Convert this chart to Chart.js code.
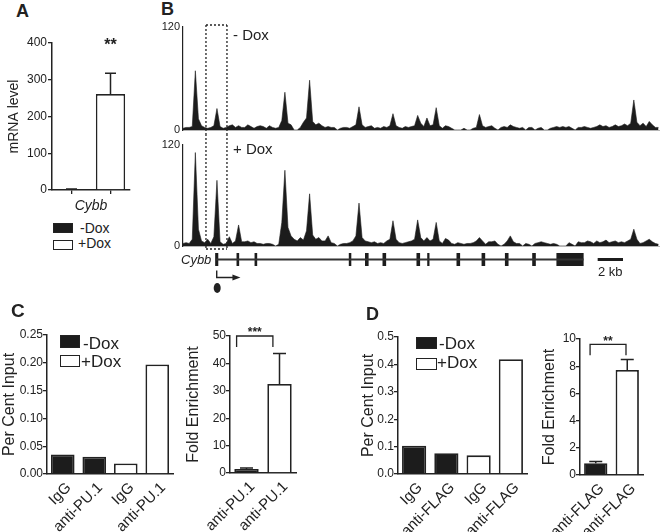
<!DOCTYPE html>
<html><head><meta charset="utf-8">
<script src="https://cdn.jsdelivr.net/npm/chart.js@4.4.1/dist/chart.umd.min.js"></script>
<style>
html,body{margin:0;padding:0;background:#fff;}
body{width:660px;height:532px;position:relative;overflow:hidden;font-family:"Liberation Sans",Arial,Helvetica,sans-serif;color:#222;}
canvas{position:absolute;}
.t{position:absolute;white-space:nowrap;line-height:1;}
.b{font-weight:bold;}
.box{position:absolute;border:1.5px solid #222;box-sizing:border-box;}
.blk{background:#1c1c1c;}
.wht{background:#fff;}
</style></head><body>
<canvas id="cA"></canvas>
<canvas id="cTop"></canvas>
<canvas id="cBot"></canvas>
<canvas id="cGene"></canvas>
<canvas id="cC1"></canvas>
<canvas id="cC2"></canvas>
<canvas id="cD1"></canvas>
<canvas id="cD2"></canvas>

<div class="t b" style="left:16px;top:2px;font-size:18px;">A</div>
<div class="t b" style="left:161px;top:0px;font-size:18px;">B</div>
<div class="t b" style="left:11px;top:301px;font-size:19px;">C</div>
<div class="t b" style="left:366px;top:305px;font-size:18px;">D</div>

<div class="box blk" style="left:53px;top:223px;width:20px;height:10px;"></div>
<div class="t" style="left:80px;top:221px;font-size:14px;">-Dox</div>
<div class="box wht" style="left:53px;top:240px;width:20px;height:10px;"></div>
<div class="t" style="left:78px;top:236px;font-size:14px;">+Dox</div>

<div class="t" style="left:233px;top:27px;font-size:15px;">- Dox</div>
<div class="t" style="left:233px;top:141px;font-size:15px;">+ Dox</div>
<div class="t" style="left:181px;top:253px;font-size:13px;font-style:italic;">Cybb</div>
<div class="t" style="left:598px;top:265px;font-size:13px;">2 kb</div>

<div class="box blk" style="left:60px;top:335px;width:20px;height:13px;"></div>
<div class="t" style="left:83px;top:335px;font-size:17px;">-Dox</div>
<div class="box wht" style="left:60px;top:355px;width:20px;height:12px;"></div>
<div class="t" style="left:81px;top:353px;font-size:17px;">+Dox</div>

<div class="box blk" style="left:416px;top:337px;width:21px;height:12px;"></div>
<div class="t" style="left:439px;top:335px;font-size:17px;">-Dox</div>
<div class="box wht" style="left:416px;top:358px;width:21px;height:12px;"></div>
<div class="t" style="left:437px;top:354px;font-size:17px;">+Dox</div>

<script>
// ---------------- DATA ----------------
// Panel A
const aCategories = ['-Dox', '+Dox'];
const aValues = [2, 261];
const aErrors = [1, 57];
const aTicks = [0, 100, 200, 300, 400];

// Panel B (ChIP-seq coverage, bins of 0.25 kb)
const binKb = 0.25;
const trackKb = 38.62;
const trackTicks = [0, 120];
const covMinusDox = [
  2,3,3,4,69,13,5,3,2,3,
  5,25,4,2,3,5,6,3,5,3,
  3,6,4,2,4,5,4,2,5,3,
  2,3,11,44,8,6,0,0,3,9,
  14,58,10,6,8,5,3,4,3,3,
  0,2,3,3,2,4,6,27,6,3,
  4,5,2,3,2,4,3,5,19,5,
  3,2,4,3,4,5,17,8,4,14,
  5,6,26,5,2,5,4,2,0,0,
  0,2,0,0,2,3,18,5,3,4,
  5,2,0,3,4,3,6,4,3,2,
  3,0,3,3,0,2,3,0,0,2,
  3,4,3,4,3,4,2,0,3,3,
  4,3,2,3,4,6,4,5,3,4,
  6,4,5,7,5,8,35,9,5,8,
  4,10,6,3,3
];
const covPlusDox = [
  3,4,3,8,111,20,6,4,8,3,
  11,78,5,2,3,11,3,6,25,5,
  5,6,4,5,3,3,2,3,3,2,
  0,2,28,90,22,12,8,6,10,7,
  18,62,13,8,10,6,6,12,4,3,
  0,2,3,3,4,6,12,51,10,6,
  5,4,5,3,4,3,6,8,30,8,
  4,3,4,5,6,8,31,10,6,10,
  6,8,28,6,3,9,7,3,2,4,
  3,2,3,3,4,6,10,6,2,5,
  5,6,2,0,2,6,12,5,3,3,
  0,3,2,0,3,4,5,4,3,2,
  3,2,0,0,0,4,2,0,5,4,
  4,6,5,3,6,4,5,7,4,5,
  6,4,5,4,6,8,20,8,3,4,
  6,8,5,3,2
];
const geneSpanKb = [2.7, 32.4];
const exonsKb = [[2.63,2.83],[4.36,4.52],[5.82,5.98],[13.45,13.6],[14.76,15.0],[16.18,16.42],
                 [18.93,19.17],[19.8,19.93],[22.17,22.41],[24.2,24.44],[26.09,26.33],[28.3,28.54],[30.26,32.41]];
const tssKb = 2.73, tssArrowToKb = 4.65;
const promoterBoxKb = [1.86, 3.56];
const scaleBarKb = [33.6, 35.6];

// Panel C
const doxGroup = ['-Dox', '-Dox', '+Dox', '+Dox'];
const cLabels = ['IgG', 'anti-PU.1', 'IgG', 'anti-PU.1'];
const cPercent = [0.035, 0.031, 0.019, 0.197];
const cFoldLabels = ['anti-PU.1', 'anti-PU.1'];
const cFoldGroup = ['-Dox', '+Dox'];
const cFold = [1.5, 32.5];
const cFoldErr = [0.3, 11.1];
const cSig = {text: '***', from: -0.3, to: 0.8, top: 50, drop: 46};

// Panel D
const dLabels = ['IgG', 'anti-FLAG', 'IgG', 'anti-FLAG'];
const dPercent = [0.103, 0.076, 0.068, 0.419];
const dFoldLabels = ['anti-FLAG', 'anti-FLAG'];
const dFold = [0.86, 7.72];
const dFoldErr = [0.14, 0.78];
const dSig = {text: '**', from: -0.18, to: 0.96, top: 9.6, drop: 8.8};

// ---------------- STYLE / HELPERS ----------------
const INK = '#222';
const BLACK = '#1c1c1c';
Chart.defaults.font.family = '"Liberation Sans", Arial, Helvetica, sans-serif';
Chart.defaults.color = INK;
const fillOf = g => g === '-Dox' ? BLACK : '#ffffff';

const errorBars = {
  id: 'errorBars',
  afterDatasetsDraw(chart, args, o) {
    if (!o || !o.errors) return;
    const meta = chart.getDatasetMeta(0), y = chart.scales.y, ctx = chart.ctx;
    const vals = chart.data.datasets[0].data;
    ctx.save(); ctx.strokeStyle = INK; ctx.lineWidth = o.width || 1.5;
    meta.data.forEach((bar, i) => {
      const e = o.errors[i]; if (!e) return;
      const yb = y.getPixelForValue(vals[i]), yt = y.getPixelForValue(vals[i] + e);
      ctx.beginPath();
      ctx.moveTo(bar.x, yb); ctx.lineTo(bar.x, yt);
      ctx.moveTo(bar.x - o.cap, yt); ctx.lineTo(bar.x + o.cap, yt);
      ctx.stroke();
    });
    ctx.restore();
  }
};

const sig = {
  id: 'sig',
  afterDraw(chart, args, o) {
    if (!o || !o.text) return;
    const x = chart.scales.x, y = chart.scales.y, ctx = chart.ctx;
    ctx.save(); ctx.strokeStyle = INK; ctx.fillStyle = INK; ctx.lineWidth = 1.3;
    let cx;
    const yt = y.getPixelForValue(o.top);
    if (o.from != null) {
      const x0 = x.getPixelForValue(o.from), x1 = x.getPixelForValue(o.to), yd = y.getPixelForValue(o.drop);
      ctx.beginPath(); ctx.moveTo(x0, yd); ctx.lineTo(x0, yt); ctx.lineTo(x1, yt); ctx.lineTo(x1, yd); ctx.stroke();
      cx = (x0 + x1) / 2;
    } else {
      cx = x.getPixelForValue(o.at);
    }
    ctx.font = 'bold ' + o.size + 'px "Liberation Sans", Arial, sans-serif';
    ctx.textAlign = 'center'; ctx.textBaseline = 'alphabetic';
    ctx.fillText(o.text, cx, yt + (o.dy || 0));
    ctx.restore();
  }
};

const promoterBox = {
  id: 'promoterBox',
  afterDraw(chart, args, o) {
    if (!o || !o.range) return;
    const x = chart.scales.x, ca = chart.chartArea, ctx = chart.ctx;
    const x0 = x.getPixelForValue(o.range[0]), x1 = x.getPixelForValue(o.range[1]);
    const y0 = o.top ? ca.top - 2 : 0;
    const y1 = o.bottom ? ca.bottom + 3 : chart.height;
    ctx.save(); ctx.strokeStyle = INK; ctx.lineWidth = 1.3; ctx.setLineDash([2, 2]);
    ctx.beginPath();
    ctx.moveTo(x0, y0); ctx.lineTo(x0, y1);
    ctx.moveTo(x1, y0); ctx.lineTo(x1, y1);
    if (o.top) { ctx.moveTo(x0, y0); ctx.lineTo(x1, y0); }
    if (o.bottom) { ctx.moveTo(x0, y1); ctx.lineTo(x1, y1); }
    ctx.stroke(); ctx.restore();
  }
};

const tss = {
  id: 'tss',
  afterDraw(chart, args, o) {
    if (!o || o.at == null) return;
    const x = chart.scales.x, ca = chart.chartArea, ctx = chart.ctx;
    const x0 = x.getPixelForValue(o.at), x1 = x.getPixelForValue(o.to);
    const yA = ca.bottom + 4.5, yB = ca.bottom + 11.5;
    ctx.save(); ctx.strokeStyle = INK; ctx.fillStyle = INK; ctx.lineWidth = 1.4;
    ctx.beginPath(); ctx.moveTo(x0, yA); ctx.lineTo(x0, yB); ctx.lineTo(x1 - 5, yB); ctx.stroke();
    ctx.beginPath(); ctx.moveTo(x1, yB); ctx.lineTo(x1 - 8, yB - 3); ctx.lineTo(x1 - 8, yB + 3); ctx.closePath(); ctx.fill();
    ctx.beginPath(); ctx.ellipse(x0 + 0.5, ca.bottom + 22, 3.5, 5, 0, 0, Math.PI * 2); ctx.fill();
    ctx.restore();
  }
};

Chart.register(errorBars, sig, promoterBox, tss);

function place(id, rect, area, cfg) {
  const cv = document.getElementById(id);
  cv.style.left = rect[0] + 'px'; cv.style.top = rect[1] + 'px';
  cv.width = rect[2]; cv.height = rect[3];
  cv.style.width = rect[2] + 'px'; cv.style.height = rect[3] + 'px';
  const o = cfg.options;
  o.responsive = false; o.animation = false; o.devicePixelRatio = 1;
  o.layout = {autoPadding: false, padding: {left: 0, top: area[1] - rect[1], right: rect[0] + rect[2] - area[2], bottom: 0}};
  const yW = area[0] - rect[0], xH = rect[1] + rect[3] - area[3];
  o.scales.x.afterFit = s => { s.height = xH; s.paddingLeft = 0; s.paddingRight = 0; s.paddingTop = 0; s.paddingBottom = 0; };
  o.scales.y.afterFit = s => { s.width = yW; s.paddingLeft = 0; s.paddingRight = 0; s.paddingTop = 0; s.paddingBottom = 0; };
  o.plugins = Object.assign({legend: {display: false}, tooltip: {enabled: false}}, o.plugins || {});
  return new Chart(cv, cfg);
}

const axisBorder = {color: INK, width: 1.5};
const yGrid = {drawOnChartArea: false, color: INK, tickLength: 4, lineWidth: 1.3};
const xGridNoTicks = {drawOnChartArea: false, tickLength: 4, tickColor: 'rgba(0,0,0,0)'};
const rotatedTicks = {minRotation: 45, maxRotation: 45, autoSkip: false, font: {size: 15}, padding: 1, labelOffset: 6};

// ---------------- PANEL A ----------------
place('cA', [0, 30, 140, 185], [52, 43, 130, 190], {
  type: 'bar',
  data: {labels: aCategories, datasets: [{data: aValues, backgroundColor: aCategories.map(fillOf), borderColor: INK, borderWidth: 1.6, barPercentage: 0.75, categoryPercentage: 1}]},
  options: {
    scales: {
      x: {grid: {offset: false, drawOnChartArea: false, color: INK, tickLength: 4, lineWidth: 1.3}, border: axisBorder, ticks: {display: false},
          title: {display: true, text: 'Cybb', font: {size: 14, style: 'italic'}, padding: {top: 0, bottom: 0}}},
      y: {min: 0, max: 400, afterBuildTicks: s => { s.ticks = aTicks.map(v => ({value: v})); }, ticks: {font: {size: 12}, padding: 1},
          grid: yGrid, border: axisBorder, title: {display: true, text: 'mRNA level', font: {size: 14}, padding: {top: 6, bottom: 0}}}
    },
    plugins: {errorBars: {errors: aErrors, cap: 5.5}, sig: {text: '**', at: 1, top: 400, dy: 7, size: 16}}
  }
});

// ---------------- PANEL B ----------------
function trackCfg(values, boxOpts) {
  return {
    type: 'line',
    data: {datasets: [{data: values.map((v, i) => ({x: i * binKb, y: v})), fill: 'origin', backgroundColor: BLACK, borderColor: BLACK, borderWidth: 0.6, pointRadius: 0, tension: 0}]},
    options: {
      scales: {
        x: {type: 'linear', min: 0, max: trackKb, ticks: {display: false}, grid: {display: false, drawTicks: false, tickLength: 0}, border: {display: true, color: '#b5b5b5', width: 1}},
        y: {min: 0, max: 120, afterBuildTicks: s => { s.ticks = trackTicks.map(v => ({value: v})); }, ticks: {font: {size: 11}, padding: 3},
            grid: {display: false, drawTicks: false, tickLength: 0}, border: {color: INK, width: 1.2}}
      },
      plugins: {promoterBox: boxOpts}
    }
  };
}
place('cTop', [155, 20, 505, 114], [183, 27, 660, 130], trackCfg(covMinusDox, {range: promoterBoxKb, top: true, bottom: false}));
place('cBot', [155, 134, 505, 118], [183, 145, 660, 246], trackCfg(covPlusDox, {range: promoterBoxKb, top: false, bottom: true}));

place('cGene', [155, 250, 505, 50], [183, 253, 660, 266], {
  type: 'bar',
  data: {labels: ['Cybb'], datasets: [
    {data: [geneSpanKb], backgroundColor: '#333', barThickness: 1.3, grouped: false, borderWidth: 0},
    ...exonsKb.map(e => ({data: [e], backgroundColor: BLACK, barThickness: 13, grouped: false, borderWidth: 0})),
    {data: [scaleBarKb], backgroundColor: BLACK, barThickness: 2.4, grouped: false, borderWidth: 0}
  ]},
  options: {
    indexAxis: 'y',
    scales: {
      x: {type: 'linear', min: 0, max: trackKb, ticks: {display: false}, grid: {display: false, drawTicks: false, tickLength: 0}, border: {display: false}},
      y: {ticks: {display: false}, grid: {display: false, drawTicks: false, tickLength: 0}, border: {display: false}}
    },
    plugins: {tss: {at: tssKb, to: tssArrowToKb}}
  }
});

// ---------------- PANEL C / D ----------------
function percentCfg(labels, values, max, step, dec) {
  return {
    type: 'bar',
    data: {labels: labels, datasets: [{data: values, backgroundColor: doxGroup.map(fillOf), borderColor: INK, borderWidth: 1.8, barPercentage: 0.75, categoryPercentage: 1}]},
    options: {
      scales: {
        x: {ticks: rotatedTicks, grid: xGridNoTicks, border: axisBorder},
        y: {min: 0, max: max, ticks: {stepSize: step, callback: v => Number(v).toFixed(dec), font: {size: 12}, padding: 0},
            grid: yGrid, border: axisBorder, title: {display: true, text: 'Per Cent Input', font: {size: 16}, padding: {top: 0, bottom: 0}}}
      }
    }
  };
}
function foldCfg(labels, groups, values, errs, max, step, sigOpts, titlePad) {
  return {
    type: 'bar',
    data: {labels: labels, datasets: [{data: values, backgroundColor: groups.map(fillOf), borderColor: INK, borderWidth: 1.8, barPercentage: 0.74, categoryPercentage: 1}]},
    options: {
      scales: {
        x: {ticks: rotatedTicks, grid: xGridNoTicks, border: axisBorder},
        y: {min: 0, max: max, ticks: {stepSize: step, font: {size: 12}, padding: 0},
            grid: yGrid, border: axisBorder, title: {display: true, text: 'Fold Enrichment', font: {size: 16}, padding: {top: titlePad, bottom: 0}}}
      },
      plugins: {errorBars: {errors: errs, cap: 6.5}, sig: sigOpts}
    }
  };
}

place('cC1', [0, 320, 182, 212], [47, 335, 173, 474], percentCfg(cLabels, cPercent, 0.25, 0.05, 2));
place('cC2', [184, 320, 120, 212], [230, 336, 296, 473], foldCfg(cFoldLabels, cFoldGroup, cFold, cFoldErr, 50, 10, Object.assign({size: 12, dy: 0}, cSig), 0));
place('cD1', [359, 320, 175, 212], [398, 337, 527, 474], percentCfg(dLabels, dPercent, 0.5, 0.1, 1));
place('cD2', [530, 320, 125, 212], [580, 339, 643, 475], foldCfg(dFoldLabels, cFoldGroup, dFold, dFoldErr, 10, 2, Object.assign({size: 12, dy: 1}, dSig), 10));
</script>
</body></html>
